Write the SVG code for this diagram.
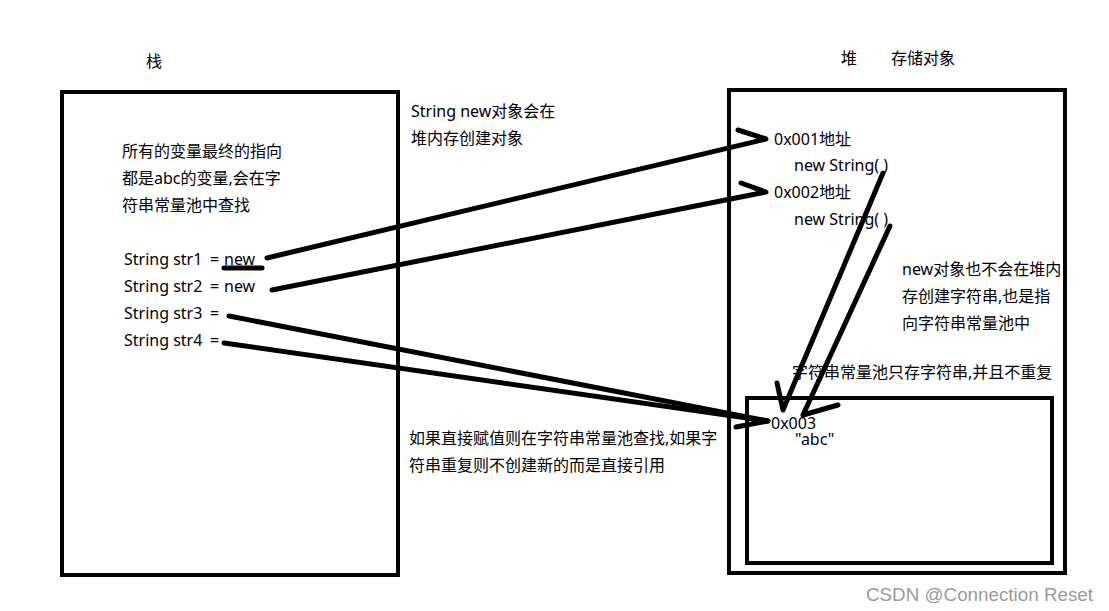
<svg xmlns="http://www.w3.org/2000/svg" width="1109" height="611" viewBox="0 0 1109 611">
<style>
.t{font-family:"Microsoft YaHei","Noto Sans","Noto Sans CJK SC",sans-serif;font-size:16px;fill:#000}
.box{fill:none;stroke:#000;stroke-width:4}
.ln{fill:none;stroke:#000;stroke-width:5;stroke-linecap:round;stroke-linejoin:round}
.wm{font-family:"Liberation Sans",Arial,sans-serif;font-size:18px;fill:#9a9a9a}
</style>
<rect width="1109" height="611" fill="#fff"/>
<g id="stack">
<rect class="box" x="62" y="92" width="336" height="483"/>
<text class="t" x="146" y="67">栈</text>
<text class="t" x="122" y="157">所有的变量最终的指向</text>
<text class="t" x="122" y="184">都是abc的变量,会在字</text>
<text class="t" x="122" y="211">符串常量池中查找</text>
<text class="t" x="124" y="265">String str1<tspan x="210">=</tspan><tspan x="224">new</tspan></text>
<text class="t" x="124" y="292">String str2<tspan x="210">=</tspan><tspan x="224">new</tspan></text>
<text class="t" x="124" y="319">String str3<tspan x="210">=</tspan></text>
<text class="t" x="124" y="346">String str4<tspan x="210">=</tspan></text>
</g>
<g id="heap">
<rect class="box" x="729" y="90" width="336" height="483"/>
<text class="t" x="841" y="64">堆</text>
<text class="t" x="891" y="64">存储对象</text>
<text class="t" x="774" y="145">0x001地址</text>
<text class="t" x="794" y="171">new String( )</text>
<text class="t" x="774" y="198">0x002地址</text>
<text class="t" x="794" y="225">new String( )</text>
<text class="t" x="902" y="275">new对象也不会在堆内</text>
<text class="t" x="902" y="302">存创建字符串,也是指</text>
<text class="t" x="902" y="329">向字符串常量池中</text>
<text class="t" x="792" y="378">字符串常量池只存字符串,并且不重复</text>
</g>
<g id="pool">
<rect class="box" x="747" y="398" width="305" height="165"/>
<text class="t" x="771" y="429">0x003</text>
<text class="t" x="795" y="445">"abc"</text>
</g>
<g id="notes">
<text class="t" x="411" y="117">String new对象会在</text>
<text class="t" x="411" y="144">堆内存创建对象</text>
<text class="t" x="409" y="444">如果直接赋值则在字符串常量池查找,如果字</text>
<text class="t" x="409" y="471">符串重复则不创建新的而是直接引用</text>
</g>
<g id="connectors">
<path class="ln" d="M224 268 L262 268"/>
<path class="ln" d="M267 258 L766 139 L738 130"/>
<path class="ln" d="M272 290 L766 192 L741 183"/>
<path class="ln" d="M229 316 L768 421"/>
<path class="ln" d="M224 343 L768 421 L736 427"/>
<path class="ln" d="M883 173 L783 410 L777 383"/>
<path class="ln" d="M890 226 L803 415 L838 405"/>
</g>
<text class="wm" x="866" y="601" textLength="227" lengthAdjust="spacingAndGlyphs">CSDN @Connection Reset</text>
</svg>
